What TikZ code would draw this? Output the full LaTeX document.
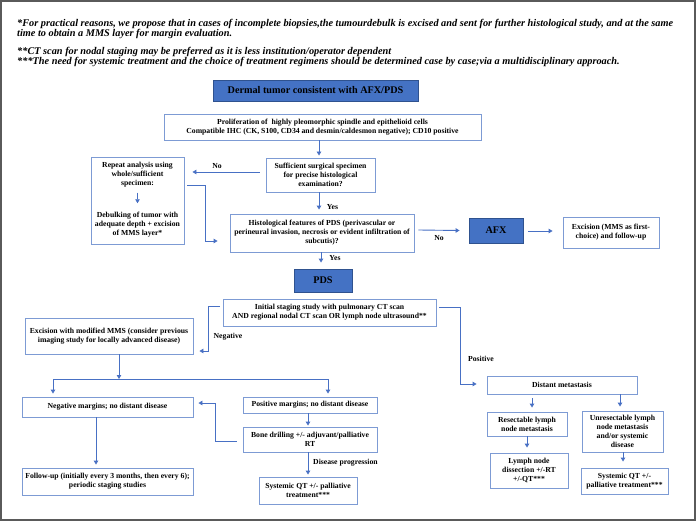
\documentclass[tikz,border=0pt]{standalone}
\usepackage{fontspec}
\setmainfont{Liberation Serif}
\usetikzlibrary{arrows.meta,calc}
\definecolor{boxc}{RGB}{125,155,212}
\definecolor{arrc}{RGB}{72,112,196}
\definecolor{bfill}{RGB}{68,114,196}
\definecolor{bdraw}{RGB}{47,82,143}
\definecolor{framec}{RGB}{90,90,90}
\begin{document}
\begin{tikzpicture}[x=1pt,y=-1pt,
  wbox/.style={draw=boxc,line width=0.9pt,fill=white,inner sep=0pt,align=center,
    font=\bfseries\fontsize{7.7}{9}\selectfont},
  bbox/.style={draw=bdraw,line width=0.9pt,fill=bfill,inner sep=0pt,align=center,
    font=\bfseries\fontsize{10.2}{11}\selectfont},
  arr/.style={draw=arrc,line width=0.9pt,-{Triangle[width=4.5pt,length=4pt]}},
  ln/.style={draw=arrc,line width=0.9pt},
  lbl/.style={font=\bfseries\fontsize{7.7}{9}\selectfont,inner sep=0pt},
  note/.style={font=\bfseries\itshape\fontsize{10.3}{10.6}\selectfont,inner sep=0pt,anchor=base west}]
\useasboundingbox (0,0) rectangle (700,521);
\fill[white] (0,0) rectangle (700,521);
\draw[framec,line width=1.6pt] (1,1) rectangle (695,520);

% footnotes
\node[note] (n1) at (17,26.5) {*For practical reasons, we propose that in cases of incomplete biopsies,the tumourdebulk is excised and sent for further histological study, and at the same};
\node[note] (n1b) at (17,37) {time to obtain a MMS layer for margin evaluation.};
\node[note] (n2) at (17,54.3) {**CT scan for nodal staging may be preferred as it is less institution/operator dependent};
\node[note] (n3) at (17,64.6) {***The need for systemic treatment and the choice of treatment regimens should be determined case by case;via a multidisciplinary approach.};

% boxes
\node[bbox,minimum width=205pt,minimum height=21pt] (title) at (315.5,90.5) {Dermal tumor consistent with AFX/PDS};
\node[wbox,minimum width=317pt,minimum height=26pt] (prolif) at (322.5,127) {Proliferation of \ highly pleomorphic spindle and epithelioid cells\\Compatible IHC (CK, S100, CD34 and desmin/caldesmon negative); CD10 positive};
\node[wbox,minimum width=109pt,minimum height=34pt] (suff) at (320.5,175) {Sufficient surgical specimen\\for precise histological\\examination?};
\node[wbox,minimum width=93pt,minimum height=87pt] (repeat) at (137.5,200.5) {};
\node[lbl,align=center] (rep1) at (137.5,175) {Repeat analysis using\\whole/sufficient\\specimen:};
\node[lbl,align=center] (rep2) at (137.5,225) {Debulking of tumor with\\adequate depth + excision\\of MMS layer*};
\node[wbox,minimum width=184pt,minimum height=38pt] (hist) at (322,233) {Histological features of PDS (perivascular or\\perineural invasion, necrosis or evident infiltration of\\subcutis)?};
\node[bbox,minimum width=54pt,minimum height=25pt] (afx) at (496,230.5) {AFX};
\node[wbox,minimum width=96pt,minimum height=31pt] (excafx) at (611,232.5) {Excision (MMS as first-\\choice) and follow-up};
\node[bbox,minimum width=58pt,minimum height=23pt] (pds) at (323,280.5) {PDS};
\node[wbox,minimum width=213pt,minimum height=27pt] (init) at (329.5,312.5) {Initial staging study with pulmonary CT scan\\AND regional nodal CT scan OR lymph node ultrasound**};
\node[wbox,minimum width=168pt,minimum height=36pt] (excmms) at (109,336) {Excision with modified MMS (consider previous\\imaging study for locally advanced disease)};
\node[wbox,minimum width=171pt,minimum height=20pt] (negm) at (107.5,407) {Negative margins; no distant disease};
\node[wbox,minimum width=134pt,minimum height=16pt] (posm) at (310,405) {Positive margins; no distant disease};
\node[wbox,minimum width=134pt,minimum height=25pt] (bone) at (310,439.5) {Bone drilling +/- adjuvant/palliative\\RT};
\node[wbox,minimum width=98pt,minimum height=27pt] (sysl) at (308,490.5) {Systemic QT +/- palliative\\treatment***};
\node[wbox,minimum width=171pt,minimum height=27pt] (follow) at (107.5,481.5) {Follow-up (initially every 3 months, then every 6);\\periodic staging studies};
\node[wbox,minimum width=150pt,minimum height=18pt] (dist) at (562,385) {Distant metastasis};
\node[wbox,minimum width=80pt,minimum height=24pt] (resect) at (527,424) {Resectable lymph\\node metastasis};
\node[wbox,minimum width=78pt,minimum height=35pt] (lnd) at (529,470.5) {Lymph node\\dissection +/-RT\\+/-QT***};
\node[wbox,minimum width=81pt,minimum height=41pt] (unres) at (622.5,431.5) {Unresectable lymph\\node metastasis\\and/or systemic\\disease};
\node[wbox,minimum width=87pt,minimum height=26pt] (sysr) at (624.5,481) {Systemic QT +/-\\palliative treatment***};

% connectors
\draw[arr,shorten >=2pt] (prolif.south -| 319,0) -- (suff.north -| 319,0);
\draw[arr,shorten >=1pt] ($(rep1.south)+(0,5)$) -- ($(rep2.north)+(0,-8)$);
\draw[arr] ($(suff.west)+(-6,-3)$) -- ($(repeat.east)+(8,-28.5)$);
\node[lbl] (no1) at (217,166) {No};
\draw[arr] ($(repeat.east)+(3,-15.5)$) -- (205,185) |- ($(hist.west)+(-12,8)$);
\draw[arr,shorten >=4pt] (suff.south -| 319,0) -- (hist.north -| 319,0);
\node[lbl] (yes1) at (332.5,207) {Yes};
\draw[arr] ($(hist.east)+(4,-3)$) -- ($(afx.west)+(-9,0)$);
\node[lbl] (no2) at (439,238) {No};
\draw[arr] ($(afx.east)+(5,0.5)$) -- ($(excafx.west)+(-10,-1.5)$);
\draw[arr,shorten >=6pt] (hist.south -| 321,0) -- (pds.north -| 321,0);
\node[lbl] (yes2) at (335,258) {Yes};
\draw[arr] ($(init.west)+(-3,-6.5)$) -- (208,306) |- ($(excmms.east)+(6,15)$);
\node[lbl] (neg) at (228,337) {Negative};
\draw[arr] ($(init.east)+(3,-5.5)$) -- (460,307) |- ($(dist.west)+(-10,-1)$);
\node[lbl] (pos) at (481,359) {Positive};
\coordinate (split) at (119,379);
\draw[arr] ($(excmms.south)+(10,0)$) -- (split);
\draw[ln] (53,379) -- (328,379);
\draw[arr,shorten >=3pt] (53,379) -- (negm.north -| 53,0);
\draw[arr,shorten >=3pt] (328,379) -- (posm.north -| 328,0);
\draw[arr,shorten >=1pt] (posm.south -| 308,0) -- (bone.north -| 308,0);
\draw[arr] ($(bone.west)+(-6,1.5)$) -- (215,441) |- ($(negm.east)+(5,-4)$);
\draw[arr,shorten >=2pt] (bone.south -| 308,0) -- (sysl.north -| 308,0);
\node[lbl,anchor=west] (prog) at (313,463) {Disease progression};
\draw[arr,shorten >=3pt] (negm.south -| 96,0) -- (follow.north -| 96,0);
\draw[arr,shorten <=4pt,shorten >=4pt] (dist.south -| 532,0) -- (resect.north -| 532,0);
\draw[arr,shorten >=4pt] (dist.south -| 620,0) -- (unres.north -| 620,0);
\draw[arr,shorten >=5pt] (resect.south -| 527,0) -- (lnd.north -| 527,0);
\draw[arr,shorten >=6pt] (unres.south -| 623,0) -- (sysr.north -| 623,0);
\end{tikzpicture}
\end{document}
